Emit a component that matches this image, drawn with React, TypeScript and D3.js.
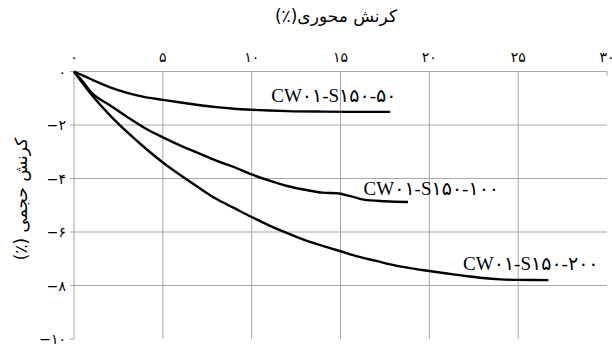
import React from "react";
import * as d3 from "d3";

// tick values and labels (Persian digits)
const xTicks = [0, 5, 10, 15, 20, 25, 30];
const xTickLabels = ["۰", "۵", "۱۰", "۱۵", "۲۰", "۲۵", "۳۰"];
const yTicks = [0, -2, -4, -6, -8, -10];
const yTickLabels = ["۰", "−۲", "−۴", "−۶", "−۸", "−۱۰"];

// CW01-S150-50
const s50x = [0, 0.5, 1, 2, 3, 4, 5, 6, 7, 8, 9, 10, 11, 12, 14, 16, 17.8];
const s50y = [0, -0.15, -0.3, -0.58, -0.8, -0.96, -1.06, -1.16, -1.25, -1.33, -1.39, -1.43, -1.46, -1.48, -1.5, -1.51, -1.51];

// CW01-S150-100
const s100x = [0, 0.5, 1, 2, 3, 4, 5, 6, 7, 8, 9, 10, 11, 12, 13, 14, 14.8, 15.5, 16.3, 17.5, 18.8];
const s100y = [0, -0.38, -0.8, -1.25, -1.7, -2.12, -2.46, -2.77, -3.05, -3.33, -3.57, -3.85, -4.08, -4.28, -4.42, -4.53, -4.55, -4.65, -4.79, -4.85, -4.88];

// CW01-S150-200
const s200x = [0, 0.5, 1, 2, 3, 4, 5, 6, 7, 8, 9, 10, 11, 12, 13, 14, 15, 16, 17, 18, 19, 20, 21, 22, 23, 24, 25, 26.7];
const s200y = [0, -0.45, -0.88, -1.62, -2.27, -2.86, -3.4, -3.88, -4.33, -4.76, -5.1, -5.44, -5.76, -6.04, -6.3, -6.52, -6.72, -6.92, -7.08, -7.24, -7.36, -7.46, -7.55, -7.64, -7.72, -7.77, -7.79, -7.8];

const seriesNames = ["CW۰۱-S۱۵۰-۵۰", "CW۰۱-S۱۵۰-۱۰۰", "CW۰۱-S۱۵۰-۲۰۰"];
// where each series name starts (data units)
const labelX = [11.1, 16.3, 21.9];
const labelY = [-1.14, -4.62, -7.42];

const W = 612;
const H = 347;
const margin = { top: 71.5, right: 5, bottom: 8, left: 74 };

const latin = "'Liberation Serif', 'DejaVu Sans', serif";
const persian = "'DejaVu Sans', sans-serif";

export default function App() {
  const x = d3.scaleLinear().domain([0, 30]).range([margin.left, W - margin.right]);
  const y = d3.scaleLinear().domain([0, -10]).range([margin.top, H - margin.bottom]);

  const line = d3
    .line<[number, number]>()
    .x((d) => x(d[0]))
    .y((d) => y(d[1]))
    .curve(d3.curveMonotoneX);

  const series = [
    { xs: s50x, ys: s50y },
    { xs: s100x, ys: s100y },
    { xs: s200x, ys: s200y },
  ];

  const grid = "#a6a6a6";

  return (
    <svg
      width={W}
      height={H}
      style={{ position: "absolute", left: 0, top: 0, background: "#fff" }}
    >
      {/* title */}
      <text
        x={336}
        y={22}
        textAnchor="middle"
        fontFamily={persian}
        fontSize={17}
        direction="rtl"
      >
        کرنش محوری(٪)
      </text>

      {/* y label */}
      <text
        transform={`translate(27,${199}) rotate(-90)`}
        textAnchor="middle"
        fontFamily={persian}
        fontSize={17}
        direction="rtl"
      >
        کرنش حجمی (٪)
      </text>

      {/* vertical grid */}
      {xTicks
        .filter((t) => t > 0 && t < 30)
        .map((t) => (
          <line key={"vx" + t} x1={x(t)} x2={x(t)} y1={y(0)} y2={y(-10)} stroke={grid} strokeWidth={1} />
        ))}
      {/* horizontal grid */}
      {yTicks
        .filter((t) => t < 0 && t > -10)
        .map((t) => (
          <line key={"hy" + t} x1={x(0)} x2={x(30)} y1={y(t)} y2={y(t)} stroke={grid} strokeWidth={1} />
        ))}

      {/* axes */}
      <line x1={x(0)} x2={x(30)} y1={y(0)} y2={y(0)} stroke={grid} />
      <line x1={x(30)} x2={x(30)} y1={y(0)} y2={y(0) + 4} stroke={grid} />
      <line x1={x(0)} x2={x(0)} y1={y(0)} y2={y(-10)} stroke={grid} />
      {yTicks.map((t) => (
        <line key={"yt" + t} x1={x(0) - 4} x2={x(0)} y1={y(t)} y2={y(t)} stroke={grid} />
      ))}

      {/* x tick labels */}
      {xTicks.map((t, i) => (
        <text
          key={"xl" + t}
          x={x(t)}
          y={y(0) - 10}
          textAnchor="middle"
          fontFamily={persian}
          fontSize={14}
        >
          {xTickLabels[i]}
        </text>
      ))}
      {/* y tick labels */}
      {yTicks.map((t, i) => (
        <text
          key={"yl" + t}
          x={x(0) - 8}
          y={y(t) + 5}
          textAnchor="end"
          fontFamily={persian}
          fontSize={14}
        >
          {yTickLabels[i]}
        </text>
      ))}

      {/* curves */}
      {series.map((s, k) => (
        <path
          key={"c" + k}
          d={line(s.xs.map((v, i) => [v, s.ys[i]]) as [number, number][]) || ""}
          fill="none"
          stroke="#000"
          strokeWidth={2.4}
          strokeLinejoin="round"
        />
      ))}

      {/* curve labels */}
      {seriesNames.map((name, k) => (
        <text
          key={"lab" + k}
          x={x(labelX[k])}
          y={y(labelY[k])}
          textAnchor="start"
          fontFamily={latin}
          fontSize={19}
          direction="ltr"
        >
          {name}
        </text>
      ))}
    </svg>
  );
}
